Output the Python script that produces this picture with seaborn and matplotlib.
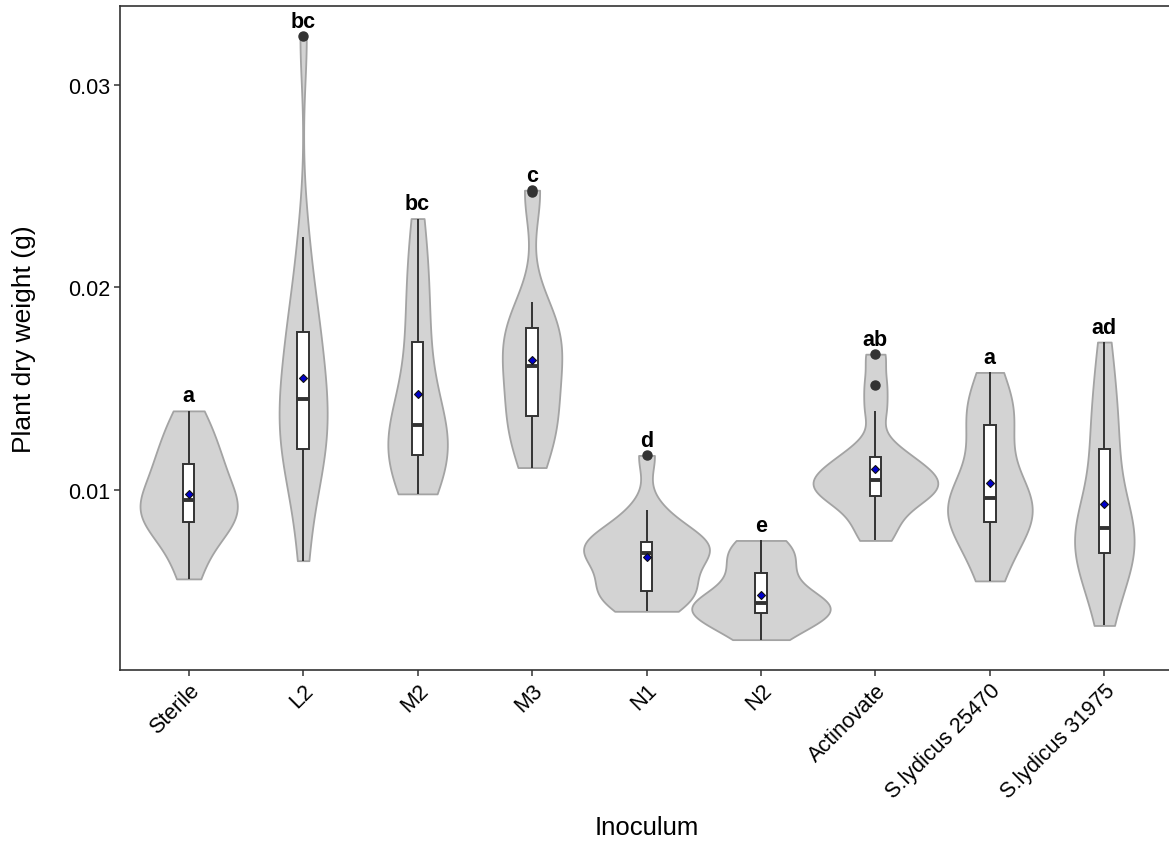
import numpy as np
import pandas as pd
import matplotlib
matplotlib.use("Agg")
import matplotlib.pyplot as plt
import seaborn as sns

categories = ["Sterile", "L2", "M2", "M3", "N1", "N2", "Actinovate",
              "S.lydicus 25470", "S.lydicus 31975"]
letters = ["a", "bc", "bc", "c", "d", "e", "ab", "a", "ad"]

sterile = [0.0056, 0.0068, 0.0076, 0.0081, 0.0084, 0.0087, 0.0090, 0.0093, 0.0095,
           0.0099, 0.0104, 0.0109, 0.0113, 0.0118, 0.0124, 0.0131, 0.0139]
l2 = [0.0065, 0.0092, 0.0105, 0.0114, 0.0120, 0.0126, 0.0133, 0.0139, 0.0145,
      0.0152, 0.0160, 0.0169, 0.0178, 0.0188, 0.0200, 0.0225, 0.0324]
m2 = [0.0098, 0.0105, 0.0110, 0.0114, 0.0117, 0.0120, 0.0124, 0.0128, 0.0132,
      0.0138, 0.0148, 0.0160, 0.0173, 0.0188, 0.0200, 0.0215, 0.0234]
m3 = [0.0111, 0.0117, 0.0126, 0.0132, 0.0136, 0.0138, 0.0147, 0.0155, 0.0160,
      0.0162, 0.0168, 0.0174, 0.0179, 0.0180, 0.0185, 0.0193, 0.0247, 0.0248]
n1 = [0.0040, 0.0045, 0.0048, 0.0049, 0.0050, 0.0055, 0.0061, 0.0066, 0.0069,
      0.0070, 0.0072, 0.0073, 0.0074, 0.0077, 0.0083, 0.0090, 0.0117]
n2 = [0.0026, 0.0030, 0.0034, 0.0037, 0.0039, 0.0040, 0.0041, 0.0043, 0.0044,
      0.0046, 0.0049, 0.0054, 0.0059, 0.0064, 0.0068, 0.0072, 0.0075]
actinovate = [0.0075, 0.0082, 0.0089, 0.0094, 0.0097, 0.0099, 0.0101, 0.0103, 0.0105,
              0.0107, 0.0110, 0.0113, 0.0116, 0.0122, 0.0139, 0.0152, 0.0167]
slyd_25470 = [0.0055, 0.0064, 0.0076, 0.0081, 0.0084, 0.0087, 0.0090, 0.0093, 0.0096,
              0.0099, 0.0105, 0.0115, 0.0132, 0.0134, 0.0139, 0.0146, 0.0158]
slyd_31975 = [0.0033, 0.0048, 0.0058, 0.0065, 0.0069, 0.0072, 0.0075, 0.0078, 0.0081,
              0.0086, 0.0094, 0.0108, 0.0120, 0.0130, 0.0140, 0.0155, 0.0173]

groups = [sterile, l2, m2, m3, n1, n2, actinovate, slyd_25470, slyd_31975]

df = pd.DataFrame({
    "Inoculum": np.repeat(categories, [len(g) for g in groups]),
    "weight": np.concatenate(groups),
})

sns.set_theme(style="white")
plt.rcParams["font.family"] = ["Liberation Sans", "DejaVu Sans"]

W, H = 1169, 845
fig = plt.figure(figsize=(W / 100, H / 100), dpi=100)
ax = fig.add_axes([120 / W, 1 - 671 / H, 1053 / W, 664 / H])

violin_widths = [0.85, 0.42, 0.52, 0.52, 1.10, 1.21, 1.09, 0.74, 0.52]
for cat, vals, w in zip(categories, groups, violin_widths):
    sub = df[df["Inoculum"] == cat]
    v = np.asarray(vals)
    sd = v.std(ddof=1)
    q75, q25 = np.percentile(v, [75, 25])
    bw = 0.9 * min(sd, (q75 - q25) / 1.34) * len(v) ** -0.2
    sns.violinplot(data=sub, x="Inoculum", y="weight", order=categories,
                   width=w, density_norm="width", cut=0, inner=None,
                   bw_method=bw / sd, color="#D3D3D3", linecolor="#A3A3A3",
                   linewidth=1.3, saturation=1, ax=ax)

sns.boxplot(data=df, x="Inoculum", y="weight", order=categories, width=0.1,
            color="white", linecolor="#333333", linewidth=1.4, saturation=1,
            showcaps=False, fliersize=6.5,
            flierprops=dict(marker="o", markerfacecolor="#333333",
                            markeredgecolor="#333333"),
            showmeans=True,
            meanprops=dict(marker="D", markerfacecolor="#0000CD",
                           markeredgecolor="#111111", markersize=4.2,
                           markeredgewidth=0.8),
            medianprops=dict(linewidth=2.8, color="#333333"),
            ax=ax)

for i, (vals, lab) in enumerate(zip(groups, letters)):
    ax.text(i, max(vals) + 0.00047, lab, ha="center", va="baseline",
            fontsize=15.5, fontweight="bold", color="black")

ax.set_xlim(-0.6, len(categories) - 0.4)
ax.set_ylim(0.0011, 0.0339)
ax.set_yticks([0.01, 0.02, 0.03])
ax.set_yticklabels(["0.01", "0.02", "0.03"])
ax.set_xticks(range(len(categories)))
ax.set_xticklabels(categories, rotation=45, ha="right", rotation_mode="anchor")

for side in ["top", "left", "bottom"]:
    ax.spines[side].set_visible(True)
    ax.spines[side].set_color("#333333")
    ax.spines[side].set_linewidth(1.2)
ax.spines["right"].set_visible(False)

ax.tick_params(axis="both", which="major", length=4, width=1.1, color="#333333",
               labelsize=15.5, labelcolor="black", pad=3, bottom=True, left=True)

ax.set_xlabel("Inoculum", fontsize=18.5, color="black")
ax.set_ylabel("Plant dry weight (g)", fontsize=19, color="black")
ax.xaxis.set_label_coords(0.5, -0.218)
ax.yaxis.set_label_coords(-0.08, 0.5)

fig.savefig("out.png", dpi=100)
